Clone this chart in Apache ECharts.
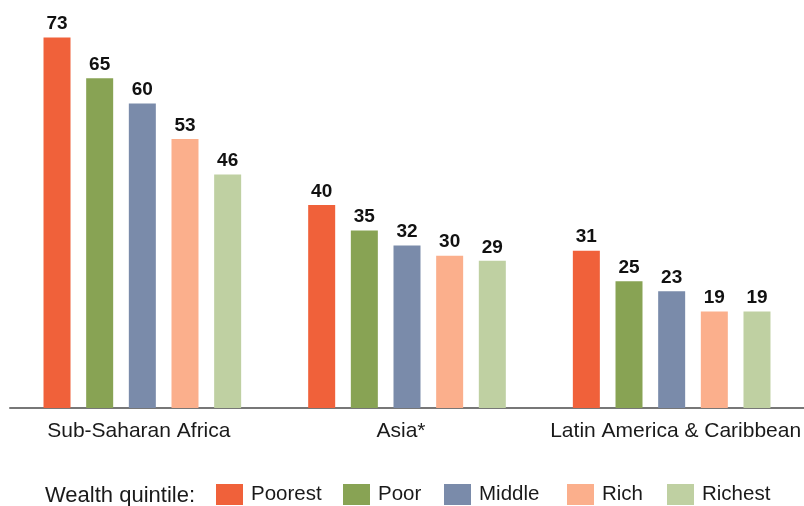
<!DOCTYPE html>
<html>
<head>
<meta charset="utf-8">
<script src="https://cdn.jsdelivr.net/npm/echarts@6/dist/echarts.min.js"></script>
<style>html,body{margin:0;padding:0;background:#fff;}#c{width:804px;height:506px;}</style>
</head>
<body>
<div id="c"></div>
<script>
const categories = ['Sub-Saharan Africa', 'Asia*', 'Latin America & Caribbean'];
const seriesNames = ['Poorest', 'Poor', 'Middle', 'Rich', 'Richest'];
const poorest = [73, 40, 31];
const poor = [65, 35, 25];
const middle = [60, 32, 23];
const rich = [53, 30, 19];
const richest = [46, 29, 19];
const colors = ['#F0613A', '#88A354', '#7A8BAA', '#FBAF8C', '#BFD0A2'];
const legendTitle = 'Wealth quintile:';

const values = [poorest, poor, middle, rich, richest];
const FONT = '"Liberation Sans", Arial, sans-serif';
const legendLefts = [216, 343, 444, 567, 667];
const labelPads = [[0, 7, 0, 0], [0, 12, 0, 0], [0, 0, 0, 8]];

const rich_ = {};
labelPads.forEach((p, i) => {
  rich_['l' + i] = { color: '#1a1a1a', fontSize: 21, fontFamily: FONT, padding: p };
});

const chart = echarts.init(document.getElementById('c'));
chart.setOption({
  animation: false,
  color: colors,
  grid: { left: 10, right: -5, top: 2, bottom: 98, containLabel: false },
  xAxis: {
    type: 'category',
    data: categories,
    axisLine: { lineStyle: { color: '#777', width: 2 } },
    axisTick: { show: false },
    axisLabel: {
      interval: 0, color: '#1a1a1a', fontSize: 21, fontFamily: FONT, margin: 13,
      formatter: (v, idx) => '{l' + idx + '|' + v + '}',
      rich: rich_
    }
  },
  yAxis: { type: 'value', min: 0, max: 80, show: false, splitLine: { show: false } },
  legend: seriesNames.map((name, i) => ({
    data: [name],
    left: legendLefts[i], top: 484, padding: 0,
    itemWidth: 27, itemHeight: 21,
    icon: 'rect',
    textStyle: { color: '#1a1a1a', fontSize: 20.5, fontFamily: FONT, padding: [0, 0, 0, 3] }
  })),
  graphic: [{
    type: 'text', left: 45, top: 485,
    style: { text: legendTitle, fill: '#1a1a1a', font: '22px ' + FONT, textVerticalAlign: 'top' }
  }],
  series: seriesNames.map((name, i) => ({
    name, type: 'bar', data: values[i],
    barWidth: 27, barGap: '58%',
    itemStyle: { color: colors[i] },
    label: { show: true, position: 'top', distance: 4, color: '#111', fontSize: 19, fontWeight: 'bold', fontFamily: FONT }
  }))
});
</script>
</body>
</html>
